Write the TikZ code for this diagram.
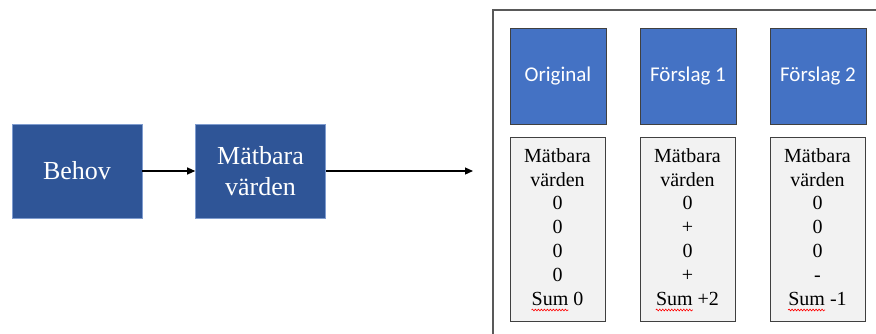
\documentclass[tikz,border=0pt]{standalone}
\usepackage{fontspec}
\setmainfont{Liberation Serif}
\newfontfamily\calibrifont{Carlito}
\usetikzlibrary{arrows.meta, positioning, calc, decorations.pathmorphing}
\definecolor{darkblue}{HTML}{2F5597}
\definecolor{midblue}{HTML}{4472C4}
\definecolor{edgeblue}{HTML}{7F9CCF}
\definecolor{lightgray}{HTML}{F2F2F2}
\definecolor{framegray}{HTML}{595959}

\begin{document}
\begin{tikzpicture}[x=1pt, y=-1pt,
    stepbox/.style={draw=edgeblue, line width=0.6pt, fill=darkblue, text=white, minimum width=130pt, minimum height=94pt, align=center, font=\fontsize{26}{31}\selectfont},
    headbox/.style={draw=black!75, line width=1pt, fill=midblue, text=white, minimum width=96pt, minimum height=96pt, font=\calibrifont\fontsize{21}{25}\selectfont},
    valbox/.style={draw=black!75, line width=1pt, fill=lightgray, minimum width=95pt, minimum height=184pt},
    vals/.style={inner sep=0pt, align=center, font=\fontsize{20}{23.8}\selectfont},
    arrow/.style={-{Triangle[length=8pt,width=7pt]}, line width=1.2pt},
    wavy/.style={red, line width=0.6pt, decorate, decoration={snake, amplitude=0.9pt, segment length=3pt}}
]
    \useasboundingbox (0,0) rectangle (876,333);
    \clip (0,0) rectangle (876,333);

    % left chain
    \node[stepbox] (behov) at (77,171) {Behov};
    \node[stepbox] (matbara) at (260.5,171) {Mätbara\\värden};
    \coordinate (out) at (473,171);
    \draw[arrow] (behov.east) -- (matbara.west);
    \draw[arrow] (matbara.east) -- (out);

    % frame with the alternatives
    \draw[framegray, line width=1.8pt] (493,10) rectangle (890,345);

    \node[headbox] (orig) at (558,76) {Original};
    \node[headbox] (fs1) at (688,76) {Förslag 1};
    \node[headbox] (fs2) at (818,76) {Förslag 2};

    \node[valbox] (vorig) at (557.5,229) {};
    \node[valbox] (vfs1) at (687.5,229) {};
    \node[valbox] (vfs2) at (817.5,229) {};

    \node[vals, anchor=north] (torig) at (557.5,148.3) {Mätbara\\värden\\0\\0\\0\\0};
    \node[vals, anchor=north] (tfs1) at (687.5,148.3) {Mätbara\\värden\\0\\+\\0\\+};
    \node[vals, anchor=north] (tfs2) at (817.5,148.3) {Mätbara\\värden\\0\\0\\0\\-};

    \node[vals, anchor=base] (sorig) at (557.5,305) {Sum 0};
    \node[vals, anchor=base] (sfs1) at (687.5,305) {Sum +2};
    \node[vals, anchor=base] (sfs2) at (817.5,305) {Sum -1};

    % spelling marks
    \draw[wavy] ($(sorig.base west)+(0,5)$) -- ++(37,0);
    \draw[wavy] ($(sfs1.base west)+(0,5)$) -- ++(37,0);
    \draw[wavy] ($(sfs2.base west)+(0,5)$) -- ++(37,0);
\end{tikzpicture}
\end{document}
